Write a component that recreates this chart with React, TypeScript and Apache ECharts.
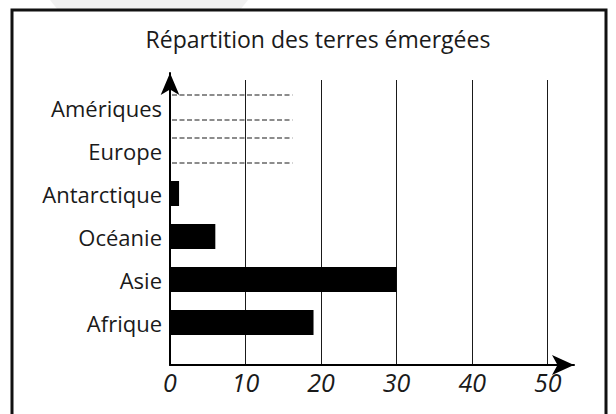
import React, { useEffect, useRef } from "react";
import * as echarts from "echarts";

const titleText = "Répartition des terres émergées";
const categories = ["Afrique", "Asie", "Océanie", "Antarctique", "Europe", "Amériques"];
const values = [19, 30, 6, 1.2, null, null];
const placeholderCategories = ["Europe", "Amériques"];
const placeholderLengths = [16.2, 16.2];
const tickValues = { min: 0, max: 50, interval: 10 };

const FONT = "'Open Sans', 'DejaVu Sans', sans-serif";
const INK = "#1a1a1a";

export default function App() {
  const ref = useRef<HTMLDivElement>(null);
  useEffect(() => {
    if (!ref.current) return;
    const chart = echarts.init(ref.current, null, { renderer: "svg" });
    const left = 170;
    const rightMain = 616 - 547.7;
    const option: any = {
      animation: false,
      backgroundColor: "#ffffff",
      title: {
        text: titleText,
        left: 313,
        top: 22,
        textAlign: "center",
        textStyle: { fontFamily: FONT, fontSize: 23, fontWeight: "normal", color: INK },
      },
      graphic: [
        {
          type: "polygon",
          shape: { points: [[50, 0], [248, 0], [240, 10], [58, 10]] },
          style: { fill: "#f1f1f1" },
          z: -1,
        },
        {
          type: "rect",
          shape: { x: 12, y: 10, width: 594, height: 420 },
          style: { fill: "none", stroke: "#111", lineWidth: 3 },
        },
      ],
      grid: [
        { left, right: rightMain, top: 80, bottom: 49 },
        { left, right: 616 - 574, top: 73, bottom: 49 },
        { left, right: rightMain, top: 86, bottom: 70 },
      ],
      xAxis: [
        {
          gridIndex: 0,
          type: "value",
          min: tickValues.min,
          max: tickValues.max,
          interval: tickValues.interval,
          axisLine: { show: false },
          axisTick: { show: false },
          splitLine: { show: true, lineStyle: { color: INK, width: 1 } },
          axisLabel: {
            margin: 4,
            fontFamily: FONT,
            fontSize: 25,
            fontStyle: "italic",
            color: INK,
          },
        },
        {
          gridIndex: 1,
          type: "value",
          min: 0,
          max: 1,
          axisLine: {
            show: true,
            symbol: ["none", "arrow"],
            symbolSize: [15, 22],
            lineStyle: { color: "#000", width: 2 },
          },
          axisTick: { show: false },
          axisLabel: { show: false },
          splitLine: { show: false },
        },
        {
          gridIndex: 2,
          type: "value",
          min: tickValues.min,
          max: tickValues.max,
          show: false,
        },
      ],
      yAxis: [
        { gridIndex: 0, type: "value", show: false },
        {
          gridIndex: 1,
          type: "value",
          min: 0,
          max: 1,
          axisLine: {
            show: true,
            symbol: ["none", "arrow"],
            symbolSize: [14, 22],
            lineStyle: { color: "#000", width: 2 },
          },
          axisTick: { show: false },
          axisLabel: { show: false },
          splitLine: { show: false },
        },
        {
          gridIndex: 2,
          type: "category",
          data: categories,
          axisLine: { show: false },
          axisTick: { show: false },
          splitLine: { show: false },
          axisLabel: {
            margin: 8,
            fontFamily: FONT,
            fontSize: 22,
            color: INK,
          },
        },
      ],
      series: [
        {
          type: "bar",
          xAxisIndex: 2,
          yAxisIndex: 2,
          data: values,
          barWidth: 25,
          itemStyle: { color: "#000" },
        },
        {
          type: "custom",
          xAxisIndex: 2,
          yAxisIndex: 2,
          data: placeholderCategories.map((c, i) => [placeholderLengths[i], categories.indexOf(c)]),
          renderItem: (params: any, api: any) => {
            const start = api.coord([0, api.value(1)]);
            const end = api.coord([api.value(0), api.value(1)]);
            const half = 12.5;
            const style = { stroke: INK, lineWidth: 1.2, lineDash: [5, 2.5], fill: "none" };
            return {
              type: "group",
              children: [
                { type: "line", shape: { x1: start[0] + 2, y1: start[1] - half, x2: end[0], y2: end[1] - half }, style },
                { type: "line", shape: { x1: start[0] + 2, y1: start[1] + half, x2: end[0], y2: end[1] + half }, style },
              ],
            };
          },
        },
      ],
    };
    chart.setOption(option);
    return () => chart.dispose();
  }, []);
  return (
    <div
      ref={ref}
      style={{ position: "fixed", left: 0, top: 0, width: 616, height: 414 }}
    />
  );
}
